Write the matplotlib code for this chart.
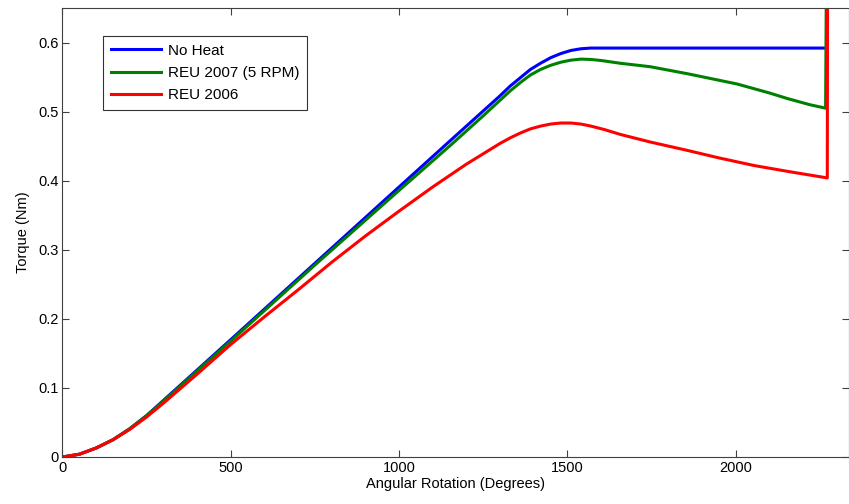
import matplotlib
matplotlib.use("Agg")
import matplotlib.pyplot as plt

plt.rcParams['font.family'] = ['Liberation Sans', 'DejaVu Sans']

blue_x = [0, 50, 100, 150, 200, 250, 300, 500, 1000, 1152, 1300, 1330, 1360, 1390, 1420, 1450, 1480, 1510, 1540, 1570, 1590, 2270, 2270]
blue_y = [0, 0.004, 0.013, 0.025, 0.041, 0.060, 0.082, 0.170, 0.391, 0.458, 0.523, 0.537, 0.549, 0.561, 0.570, 0.578, 0.584, 0.5885, 0.591, 0.592, 0.592, 0.592, 0.75]

green_x = [0, 50, 100, 150, 200, 250, 300, 500, 750, 1000, 1152, 1250, 1330, 1360, 1390, 1420, 1450, 1480, 1510, 1540, 1570, 1600, 1657, 1746, 1855, 2004, 2100, 2153, 2220, 2267, 2270]
green_y = [0, 0.004, 0.013, 0.025, 0.041, 0.060, 0.081, 0.168, 0.278, 0.386, 0.451, 0.494, 0.530, 0.542, 0.553, 0.561, 0.567, 0.5715, 0.5745, 0.576, 0.5755, 0.574, 0.570, 0.565, 0.555, 0.540, 0.527, 0.519, 0.510, 0.505, 0.75]

red_x = [0, 50, 100, 150, 200, 250, 300, 400, 500, 600, 700, 800, 900, 1000, 1100, 1200, 1300, 1330, 1360, 1390, 1420, 1450, 1480, 1510, 1540, 1570, 1610, 1657, 1746, 1855, 1950, 2054, 2160, 2272, 2273]
red_y = [0, 0.004, 0.013, 0.025, 0.040, 0.058, 0.078, 0.120, 0.163, 0.203, 0.242, 0.282, 0.320, 0.356, 0.391, 0.424, 0.454, 0.462, 0.469, 0.475, 0.479, 0.482, 0.4835, 0.4835, 0.482, 0.479, 0.474, 0.467, 0.456, 0.444, 0.433, 0.422, 0.413, 0.404, 0.75]

labels = ["No Heat", "REU 2007 (5 RPM)", "REU 2006"]
xticks = [0, 500, 1000, 1500, 2000]
yticks = [0, 0.1, 0.2, 0.3, 0.4, 0.5, 0.6]

fig = plt.figure(figsize=(8.49, 5.04), dpi=100)
ax = fig.add_axes([62.5/849, 47/504, (848.5-62.5)/849, 449/504])

lw = 2.2
ax.plot(blue_x, blue_y, color=(0, 0, 1), lw=lw, label=labels[0])
ax.plot(green_x, green_y, color=(0, 0.5, 0), lw=lw, label=labels[1])
ax.plot(red_x, red_y, color=(1, 0, 0), lw=lw, label=labels[2])

ax.set_xlim(0, 2335)
ax.set_ylim(0, 0.65)
ax.set_xticks(xticks)
ax.set_xticklabels([str(t) for t in xticks])
ax.set_yticks(yticks)
ax.set_yticklabels(["0"] + ["%.1f" % t for t in yticks[1:]])
ax.tick_params(direction='in', length=5, width=0.8, color='#404040', top=True, right=True,
               labelsize=10.5, pad=3)
for s in ax.spines.values():
    s.set_color('#404040')
    s.set_linewidth(0.8)

ax.set_xlabel("Angular Rotation (Degrees)", fontsize=10.5, labelpad=1)
ax.set_ylabel("Torque (Nm)", fontsize=10.5, labelpad=6)

leg = ax.legend(loc='upper left', bbox_to_anchor=(0.0516, 0.9376), borderaxespad=0,
                fancybox=False, edgecolor='black', fontsize=11, handlelength=3.3,
                handletextpad=0.45, labelspacing=0.55, borderpad=0.5)
leg.get_frame().set_linewidth(0.8)

fig.savefig("out.png", dpi=100)
